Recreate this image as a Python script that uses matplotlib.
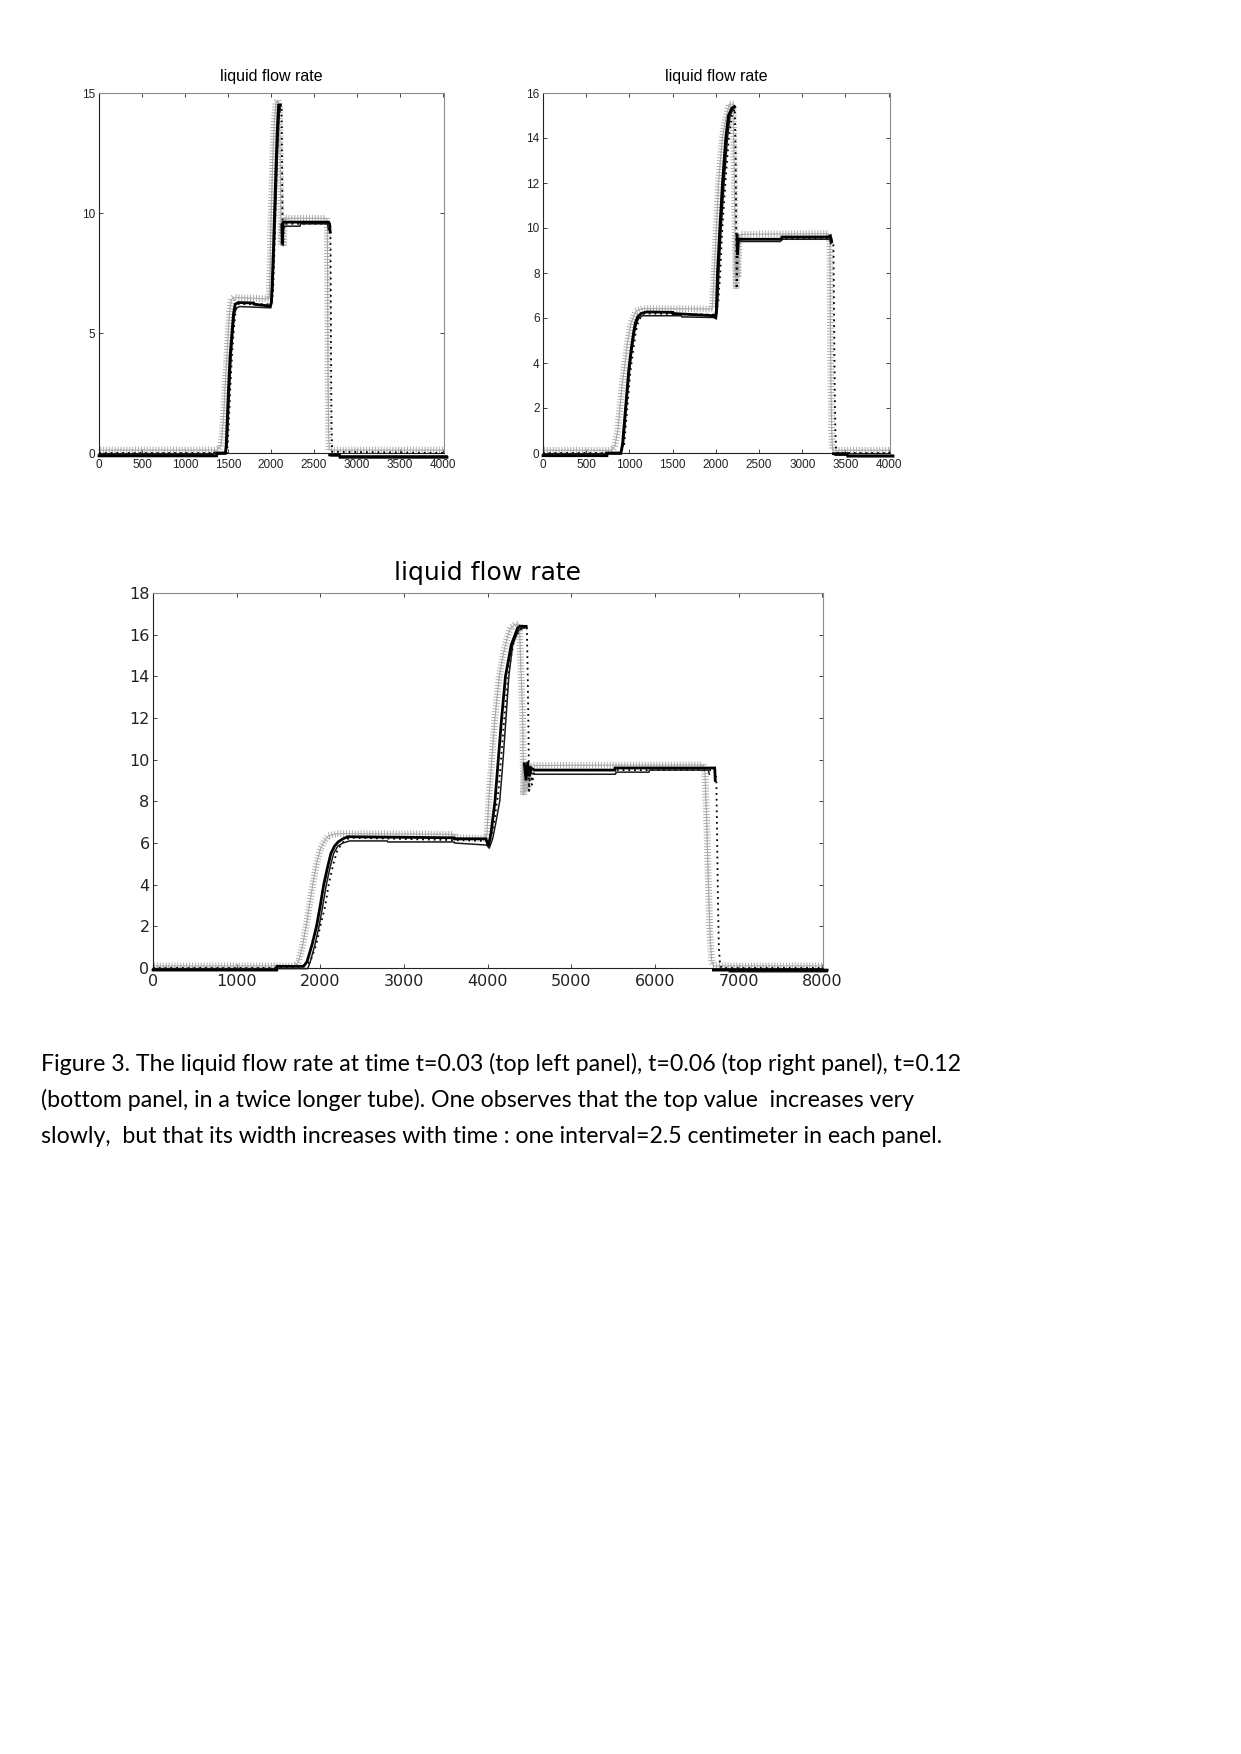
import numpy as np
import matplotlib
matplotlib.use("Agg")
import matplotlib.pyplot as plt
from matplotlib import patheffects as pe
from matplotlib import font_manager

nan = np.nan

# ---------------- data (x, y) ----------------
# top-left panel, t = 0.03
tl_plus = [(0, 0.12), (1380, 0.12), (1420, 0.3), (1450, 1.5), (1475, 3.2), (1500, 4.8),
           (1520, 5.9), (1540, 6.4), (1570, 6.48), (1980, 6.42), (1990, 7.5), (2000, 9.5),
           (2020, 12.0), (2040, 13.8), (2060, 14.6), (2080, 14.7), (2100, 14.5), (2112, 11.5),
           (2120, 8.7), (2132, 9.6), (2145, 8.6), (2158, 9.8), (2200, 9.78), (2650, 9.78),
           (2658, 9.4), (2662, 6.0), (2666, 3.0), (2671, 1.0), (2680, 0.12), (4015, 0.12)]
tl_thick = [(0, -0.12), (1370, -0.12), (1372, -0.02), (1470, -0.02), (1480, 0.3), (1488, 1.0),
            (1505, 2.5), (1525, 4.0), (1547, 5.0), (1565, 5.8), (1585, 6.2), (1620, 6.27),
            (1800, 6.25), (1805, 6.2), (1990, 6.12), (2005, 6.25), (2015, 7.0), (2030, 8.5),
            (2043, 10.0), (2060, 12.0), (2075, 13.5), (2090, 14.5), (2110, 14.5), (nan, nan),
            (2128, 9.5), (2133, 8.7), (2140, 9.6), (2150, 9.62), (2670, 9.62), (2684, 9.55),
            (2690, 9.2), (nan, nan), (2684, -0.08), (2800, -0.08), (2805, -0.18), (4050, -0.18)]
tl_thin = [(0, -0.05), (1335, -0.05), (1338, 0.03), (1480, 0.03), (1492, 0.4), (1500, 1.0),
           (1517, 2.5), (1537, 4.0), (1558, 5.0), (1577, 5.8), (1600, 6.05), (1640, 6.1),
           (2000, 6.05), (2012, 6.3), (2025, 7.0), (2040, 8.5), (2055, 10.0), (2072, 12.0),
           (2088, 13.5), (2103, 14.4), (2118, 14.3), (nan, nan), (2140, 8.9), (2150, 9.45),
           (2340, 9.45), (2345, 9.55), (2660, 9.55), (2670, 9.3), (nan, nan), (2700, -0.12),
           (4050, -0.12)]
tl_dots = [(0, 0.0), (1490, 0.0), (1500, 0.5), (1510, 1.2), (1528, 2.7), (1548, 4.1),
           (1570, 5.2), (1590, 5.9), (1615, 6.2), (2000, 6.2), (2025, 6.6), (2042, 8.5),
           (2058, 10.5), (2075, 12.5), (2095, 14.0), (2115, 14.5), (2125, 14.3), (2130, 12.0),
           (2135, 10.0), (2140, 8.6), (2148, 9.2), (2158, 9.55), (2690, 9.55), (2694, 9.2),
           (2698, 6.0), (2702, 3.0), (2707, 1.0), (2714, 0.05), (4015, 0.0)]

# top-right panel, t = 0.06
tr_plus = [(0, 0.12), (800, 0.12), (830, 0.3), (865, 1.0), (890, 2.0), (915, 3.0), (950, 4.0),
           (981, 5.0), (1020, 5.8), (1077, 6.3), (1150, 6.42), (1960, 6.4), (1981, 8.0),
           (2006, 10.0), (2031, 12.0), (2075, 14.0), (2123, 15.0), (2154, 15.5), (2200, 15.5),
           (2215, 12.0), (2225, 9.0), (2235, 7.3), (2245, 9.7), (2255, 7.8), (2270, 9.7),
           (2300, 9.72), (3300, 9.75), (3320, 9.3), (3325, 6.0), (3332, 3.0), (3340, 1.0),
           (3350, 0.12), (4015, 0.12)]
tr_thick = [(0, -0.12), (740, -0.12), (742, -0.02), (900, -0.02), (920, 0.4), (955, 2.0),
            (990, 3.6), (1020, 4.6), (1050, 5.4), (1070, 5.8), (1095, 6.05), (1135, 6.2),
            (1200, 6.27), (1500, 6.25), (1505, 6.2), (1980, 6.1), (1995, 6.0), (2005, 6.3),
            (2019, 8.0), (2046, 10.0), (2077, 12.0), (2115, 14.0), (2146, 15.0), (2181, 15.3),
            (2215, 15.4), (nan, nan), (2245, 9.7), (2250, 8.8), (2262, 9.5), (2760, 9.5),
            (2765, 9.6), (3300, 9.6), (3325, 9.65), (3340, 9.4), (nan, nan), (3360, -0.03),
            (3520, -0.03), (3525, -0.14), (4050, -0.14)]
tr_thin = [(0, -0.05), (720, -0.05), (725, 0.03), (905, 0.03), (930, 0.4), (965, 2.0),
           (1000, 3.6), (1030, 4.6), (1060, 5.4), (1085, 5.8), (1110, 6.0), (1150, 6.1),
           (1600, 6.1), (1605, 6.05), (1990, 6.02), (2005, 5.95), (2020, 6.5), (2035, 8.0),
           (2062, 10.0), (2095, 12.0), (2135, 14.0), (2165, 15.0), (2200, 15.3), (2225, 15.35),
           (nan, nan), (2250, 9.2), (2262, 9.4), (2750, 9.4), (2755, 9.5), (3320, 9.5),
           (3330, 9.3), (nan, nan), (3380, -0.1), (4050, -0.1)]
tr_dots = [(0, 0.0), (900, 0.0), (940, 0.4), (975, 2.0), (1010, 3.6), (1045, 4.6), (1075, 5.4),
           (1100, 5.8), (1125, 6.0), (1170, 6.2), (2000, 6.15), (2030, 6.8), (2050, 8.0),
           (2075, 10.0), (2110, 12.0), (2150, 14.0), (2185, 15.0), (2220, 15.3), (2230, 13.0),
           (2235, 10.0), (2240, 7.3), (2250, 8.5), (2260, 9.6), (2280, 9.5), (3330, 9.55),
           (3360, 9.3), (3368, 6.0), (3375, 3.0), (3383, 1.0), (3392, 0.1), (3410, 0.0),
           (4015, 0.0)]

# bottom panel, t = 0.12
b_plus = [(0, 0.1), (1700, 0.1), (1740, 0.3), (1784, 1.0), (1830, 2.0), (1870, 3.0),
          (1910, 4.0), (1955, 5.0), (2000, 5.7), (2050, 6.1), (2098, 6.35), (2200, 6.45),
          (3600, 6.42), (3605, 6.27), (3960, 6.22), (3990, 6.3), (4014, 8.0), (4050, 10.0),
          (4088, 12.0), (4140, 14.0), (4185, 15.0), (4230, 15.8), (4271, 16.3), (4330, 16.5),
          (4380, 16.5), (4420, 12.0), (4430, 8.3), (4450, 9.8), (4480, 8.5), (4520, 9.7),
          (4560, 9.72), (6580, 9.75), (6600, 9.3), (6620, 7.0), (6640, 4.0), (6660, 1.5),
          (6680, 0.3), (6700, 0.1), (8010, 0.1)]
b_thick = [(0, -0.1), (1480, -0.1), (1482, 0.08), (1800, 0.08), (1841, 0.3), (1900, 1.1),
           (1955, 2.0), (2000, 3.0), (2041, 4.0), (2085, 4.8), (2127, 5.5), (2170, 5.85),
           (2213, 6.05), (2270, 6.2), (2330, 6.3), (3600, 6.25), (3605, 6.2), (3980, 6.2),
           (4010, 5.85), (4042, 6.5), (4088, 8.0), (4128, 10.0), (4168, 12.0), (4214, 14.0),
           (4282, 15.5), (4357, 16.3), (4385, 16.4), (4460, 16.4), (nan, nan), (4440, 9.8),
           (4460, 9.0), (4480, 9.9), (4500, 9.2), (4520, 9.6), (4560, 9.5), (5520, 9.5),
           (5525, 9.6), (6715, 9.6), (6722, 9.0), (nan, nan), (6700, -0.1), (8060, -0.1)]
b_thin = [(0, -0.03), (1850, -0.03), (1880, 0.3), (1935, 1.1), (1985, 2.0), (2030, 3.0),
          (2072, 4.0), (2115, 4.8), (2160, 5.5), (2210, 5.85), (2270, 6.0), (2350, 6.1),
          (2800, 6.1), (2805, 6.05), (3600, 6.05), (3605, 6.0), (3990, 5.9), (4020, 5.75),
          (4060, 6.2), (4100, 7.0), (4145, 8.0), (4185, 10.0), (4220, 12.0), (4254, 14.0),
          (4300, 15.5), (4368, 16.2), (4420, 16.3), (4470, 16.35), (nan, nan), (4520, 9.35),
          (4560, 9.3), (5530, 9.3), (5535, 9.4), (5930, 9.4), (5935, 9.5), (6640, 9.5),
          (6650, 9.3), (nan, nan), (6890, -0.18), (8060, -0.18)]
b_dots = [(0, 0.0), (1750, 0.0), (1880, 0.3), (1950, 1.1), (2000, 2.0), (2060, 3.0),
          (2100, 4.0), (2150, 4.9), (2200, 5.6), (2260, 6.0), (2330, 6.2), (2400, 6.25),
          (4000, 6.1), (4030, 6.1), (4080, 7.0), (4130, 8.5), (4170, 10.5), (4210, 12.5),
          (4260, 14.5), (4320, 15.8), (4400, 16.3), (4470, 16.3), (4480, 14.0), (4490, 11.0),
          (4495, 8.5), (4510, 9.6), (4530, 8.8), (4560, 9.5), (6720, 9.5), (6735, 9.0),
          (6745, 6.0), (6755, 3.0), (6765, 1.0), (6780, 0.1), (6800, 0.0), (8010, 0.0)]

tl_xticks = [0, 500, 1000, 1500, 2000, 2500, 3000, 3500, 4000]
tl_yticks = [0, 5, 10, 15]
tr_xticks = [0, 500, 1000, 1500, 2000, 2500, 3000, 3500, 4000]
tr_yticks = [0, 2, 4, 6, 8, 10, 12, 14, 16]
b_xticks = [0, 1000, 2000, 3000, 4000, 5000, 6000, 7000, 8000]
b_yticks = [0, 2, 4, 6, 8, 10, 12, 14, 16, 18]

title_text = "liquid flow rate"
caption_lines = [
    "Figure 3. The liquid flow rate at time t=0.03 (top left panel), t=0.06 (top right panel), t=0.12",
    "(bottom panel, in a twice longer tube). One observes that the top value  increases very",
    "slowly,  but that its width increases with time : one interval=2.5 centimeter in each panel.",
]

# ---------------- fonts ----------------
avail = {f.name for f in font_manager.fontManager.ttflist}
if "Liberation Sans Narrow" in avail:
    top_font, top_tick_size, top_title_size = "Liberation Sans Narrow", 9.5, 13
else:
    top_font, top_tick_size, top_title_size = "Liberation Sans", 8.5, 11.5
cap_font = "Lato" if "Lato" in avail else "DejaVu Sans"

W, H = 1241, 1754
fig = plt.figure(figsize=(W / 100, H / 100), dpi=100)
fig.patch.set_facecolor("white")


def ax_rect(l, t, r, b):
    return [l / W, 1 - b / H, (r - l) / W, (b - t) / H]


PLUS_C = "#ababab"


def draw_panel(ax, plus, thick, thin, dots, xlim, ylim, xt, yt, font, tsize, tisize, pad):
    p = np.array(plus, float)
    ax.plot(p[:, 0], p[:, 1], color=PLUS_C, lw=0.8, clip_on=False, zorder=2,
            path_effects=[pe.TickedStroke(spacing=2.1, angle=90, length=1.0,
                                          linewidth=0.7, foreground=PLUS_C),
                          pe.TickedStroke(spacing=2.1, angle=-90, length=1.0,
                                          linewidth=0.7, foreground=PLUS_C),
                          pe.Normal()])
    d = np.array(dots, float)
    ax.plot(d[:, 0], d[:, 1], color="black", lw=1.3, ls=(0, (1, 2.2)),
            clip_on=False, zorder=3)
    t2 = np.array(thin, float)
    ax.plot(t2[:, 0], t2[:, 1], color="#1a1a1a", lw=1.1, clip_on=False, zorder=4)
    t1 = np.array(thick, float)
    ax.plot(t1[:, 0], t1[:, 1], color="black", lw=2.0, clip_on=False, zorder=5,
            solid_joinstyle="miter")
    ax.set_xlim(*xlim)
    ax.set_ylim(*ylim)
    ax.set_xticks(xt)
    ax.set_yticks(yt)
    ax.set_xticklabels([str(v) for v in xt], fontfamily=font, fontsize=tsize)
    ax.set_yticklabels([str(v) for v in yt], fontfamily=font, fontsize=tsize)
    ax.tick_params(direction="in", length=3, width=0.6, colors="#222222",
                   top=True, right=True)
    ax.tick_params(axis="x", pad=4)
    ax.tick_params(axis="y", pad=2.5)
    for s in ("left", "bottom"):
        ax.spines[s].set_color("#222222")
        ax.spines[s].set_linewidth(0.8)
    for s in ("top", "right"):
        ax.spines[s].set_color("#8c8c8c")
        ax.spines[s].set_linewidth(0.8)
    ax.set_title(title_text, fontfamily=font, fontsize=tisize, pad=pad)


ax1 = fig.add_axes(ax_rect(99, 93, 444, 453))
draw_panel(ax1, tl_plus, tl_thick, tl_thin, tl_dots, (0, 4015), (0, 15),
           tl_xticks, tl_yticks, top_font, top_tick_size, top_title_size, 8.5)

ax2 = fig.add_axes(ax_rect(543, 93, 890, 453))
draw_panel(ax2, tr_plus, tr_thick, tr_thin, tr_dots, (0, 4015), (0, 16),
           tr_xticks, tr_yticks, top_font, top_tick_size, top_title_size, 8.5)

ax3 = fig.add_axes(ax_rect(153, 593, 823, 968))
draw_panel(ax3, b_plus, b_thick, b_thin, b_dots, (0, 8010), (0, 18),
           b_xticks, b_yticks, "DejaVu Sans", 11.5, 18, 9.5)

baselines = [1071, 1107, 1143]
for line, yb in zip(caption_lines, baselines):
    fig.text(41 / W, 1 - yb / H, line, fontfamily=cap_font, fontsize=16.7,
             va="baseline", ha="left", color="black")

fig.savefig("out.png", dpi=100, facecolor="white")
